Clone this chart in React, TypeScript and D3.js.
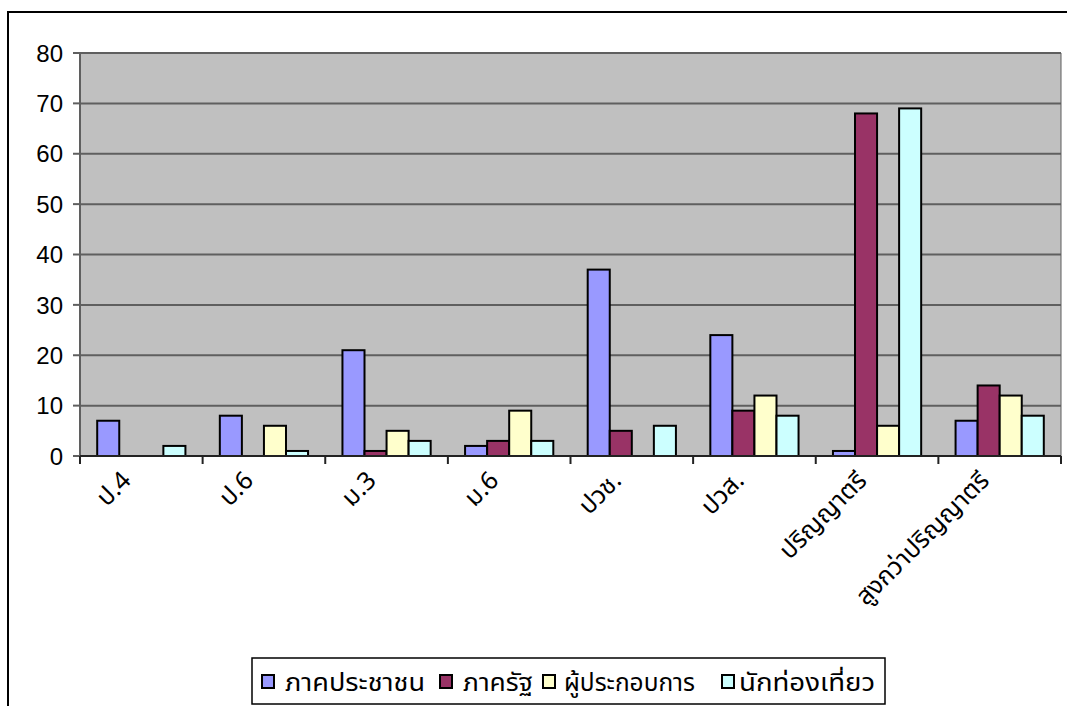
import React from "react";
import * as d3 from "d3";

const categories = ["ป.4", "ป.6", "ม.3", "ม.6", "ปวช.", "ปวส.", "ปริญญาตรี", "สูงกว่าปริญญาตรี"];
const seriesNames = ["ภาคประชาชน", "ภาครัฐ", "ผู้ประกอบการ", "นักท่องเที่ยว"];
const publicSector = [7, 8, 21, 2, 37, 24, 1, 7];
const government = [0, 0, 1, 3, 5, 9, 68, 14];
const operators = [0, 6, 5, 9, 0, 12, 6, 12];
const tourists = [2, 1, 3, 3, 6, 8, 69, 8];
const yTicks = [0, 10, 20, 30, 40, 50, 60, 70, 80];
const colors = ["#9999FF", "#993366", "#FFFFCC", "#CCFFFF"];

const seriesValues = [publicSector, government, operators, tourists];

export default function App() {
  const W = 1067, H = 706;
  const left = 80, right = 1061, top = 53, bottom = 456;
  const x = d3.scaleBand().domain(categories).range([left, right]).paddingInner(0).paddingOuter(0);
  const inner = d3.scaleBand().domain(seriesNames).range([0, x.bandwidth()]).paddingInner(0).paddingOuter(0.78);
  const y = d3.scaleLinear().domain([0, 80]).range([bottom, top]);
  const font = "Tahoma, 'Noto Sans Thai', 'Noto Sans', Arial, sans-serif";
  const boundaries = d3.range(categories.length + 1).map((i) => left + i * x.step());

  const legendItems = [
    { x: 262, tx: 285, w: 140 },
    { x: 440, tx: 463, w: 70 },
    { x: 543, tx: 564, w: 131 },
    { x: 722, tx: 739, w: 136 },
  ];

  return (
    <svg width={W} height={H} style={{ position: "fixed", left: 0, top: 0, background: "#fff" }}>
      <rect x={8} y={12} width={1100} height={750} fill="#fff" stroke="#000" strokeWidth={2} />
      <rect x={left} y={top} width={right - left} height={bottom - top} fill="#C0C0C0" />
      {yTicks.map((t) => (
        <g key={t}>
          {t > 0 && <line x1={left} x2={right} y1={y(t)} y2={y(t)} stroke="#5f5f5f" strokeWidth={2} />}
          <line x1={73} x2={left} y1={y(t)} y2={y(t)} stroke="#5f5f5f" strokeWidth={2} />
          <text x={63} y={y(t)} dy="0.36em" textAnchor="end" fontFamily="Arial, 'Liberation Sans', sans-serif" fontSize={24} fill="#000">{t}</text>
        </g>
      ))}
      <line x1={left} x2={left} y1={top} y2={bottom} stroke="#5f5f5f" strokeWidth={2} />
      <line x1={right} x2={right} y1={top} y2={bottom} stroke="#5f5f5f" strokeWidth={1} />
      {categories.map((c, ci) => (
        <g key={c}>
          {seriesValues.map((vals, si) => {
            const v = vals[ci];
            if (v <= 0) return null;
            const bx = (x(c) as number) + (inner(seriesNames[si]) as number);
            return (
              <rect key={si} x={bx} y={y(v)} width={inner.bandwidth()} height={bottom - y(v)} fill={colors[si]} stroke="#000" strokeWidth={2} />
            );
          })}
        </g>
      ))}
      <line x1={left} x2={right} y1={bottom} y2={bottom} stroke="#222" strokeWidth={2} />
      {boundaries.map((b, i) => (
        <line key={i} x1={b} x2={b} y1={bottom} y2={bottom + 8} stroke="#222" strokeWidth={2} />
      ))}
      {categories.map((c) => {
        const cx = (x(c) as number) + x.bandwidth() / 2 - 9;
        const cy = 482;
        return (
          <text key={c} x={cx} y={cy} transform={`rotate(-45 ${cx} ${cy})`} textAnchor="end" fontFamily={font} fontSize={25} fill="#000">{c}</text>
        );
      })}
      <rect x={252} y={658} width={633} height={46} fill="#fff" stroke="#000" strokeWidth={1.5} />
      {legendItems.map((it, i) => (
        <g key={i}>
          <rect x={it.x} y={675} width={12} height={13} fill={colors[i]} stroke="#000" strokeWidth={2} />
          <text x={it.tx} y={682} dy="0.36em" fontFamily={font} fontSize={24} fill="#000" textLength={it.w} lengthAdjust="spacingAndGlyphs">{seriesNames[i]}</text>
        </g>
      ))}
    </svg>
  );
}
